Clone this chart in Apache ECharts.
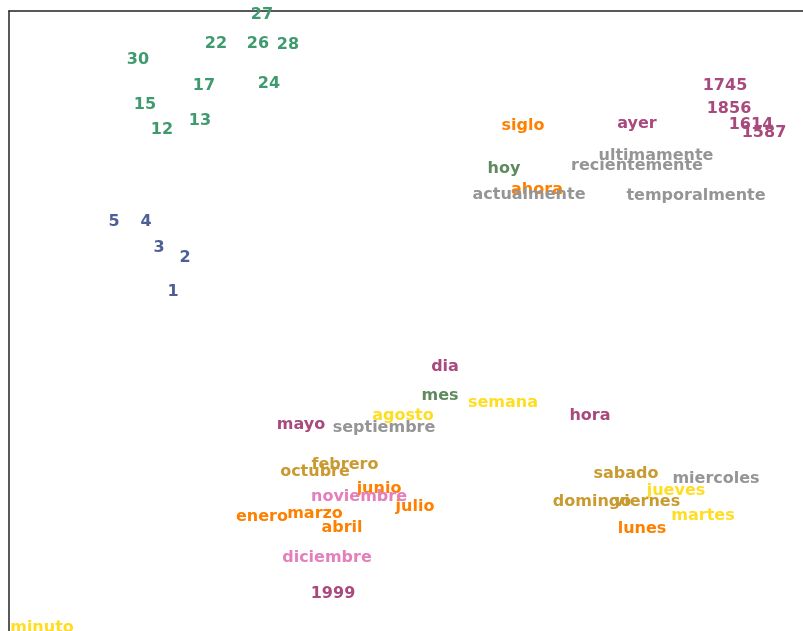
<!DOCTYPE html>
<html>
<head>
<meta charset="utf-8">
<script src="https://cdn.jsdelivr.net/npm/echarts@6/dist/echarts.min.js"></script>
<style>
  html, body { margin: 0; padding: 0; background: #fff; overflow: hidden; }
  #container { width: 812px; height: 641px; }
</style>
</head>
<body>
<div id="container"></div>
<script>
// words and their 2-d embedding coordinates, one group per colour
var diasNum = ['27', '22', '26', '28', '30', '17', '24', '15', '13', '12'];
var diasNumX = [-14.7, -19.3, -15.1, -12.1, -27.1, -20.5, -14.0, -26.4, -20.9, -24.7];
var diasNumY = [32.6, 29.7, 29.7, 29.6, 28.1, 25.5, 25.7, 23.6, 22.0, 21.1];

var bajos = ['5', '4', '3', '2', '1'];
var bajosX = [-29.5, -26.3, -25.0, -22.4, -23.6];
var bajosY = [11.9, 11.9, 9.3, 8.3, 4.9];

var anios = ['1745', '1856', '1614', '1587', 'ayer', 'dia', 'mayo', 'hora', '1999'];
var aniosX = [31.6, 32.0, 34.2, 35.5, 22.8, 3.6, -10.8, 18.1, -7.6];
var aniosY = [25.5, 23.2, 21.6, 20.8, 21.7, -2.6, -8.4, -7.5, -25.3];

var naranja = ['siglo', 'ahora', 'enero', 'marzo', 'abril', 'junio', 'julio', 'lunes'];
var naranjaX = [11.4, 12.8, -14.7, -9.4, -6.7, -3.0, 0.6, 23.3];
var naranjaY = [21.5, 15.1, -17.6, -17.3, -18.7, -14.8, -16.6, -18.8];

var gris = ['ultimamente', 'recientemente', 'actualmente', 'temporalmente', 'septiembre', 'miercoles'];
var grisX = [24.7, 22.8, 12.0, 28.7, -2.5, 30.7];
var grisY = [18.5, 17.5, 14.6, 14.5, -8.7, -13.8];

var verde = ['hoy', 'mes'];
var verdeX = [9.5, 3.1];
var verdeY = [17.2, -5.5];

var amarillo = ['agosto', 'semana', 'jueves', 'martes', 'minuto'];
var amarilloX = [-0.6, 9.4, 26.7, 29.4, -36.7];
var amarilloY = [-7.5, -6.2, -15.0, -17.5, -28.7];

var dorado = ['febrero', 'octubre', 'sabado', 'domingo', 'viernes'];
var doradoX = [-6.4, -9.4, 21.7, 18.3, 23.8];
var doradoY = [-12.4, -13.1, -13.3, -16.1, -16.1];

var rosa = ['noviembre', 'diciembre'];
var rosaX = [-5.0, -8.2];
var rosaY = [-15.6, -21.7];

var grupos = [
    [diasNum, diasNumX, diasNumY, '#3f9a6f'],
    [bajos, bajosX, bajosY, '#4d5f95'],
    [anios, aniosX, aniosY, '#a84a7d'],
    [naranja, naranjaX, naranjaY, '#ff8000'],
    [gris, grisX, grisY, '#959595'],
    [verde, verdeX, verdeY, '#5f8a5f'],
    [amarillo, amarilloX, amarilloY, '#ffdd22'],
    [dorado, doradoX, doradoY, '#c99a30'],
    [rosa, rosaX, rosaY, '#e47fbb']
];

var series = grupos.map(function (g) {
    var data = g[0].map(function (w, i) {
        return { value: [g[1][i], g[2][i]], name: w };
    });
    return {
        type: 'scatter',
        symbolSize: 0,
        clip: false,
        data: data,
        label: {
            show: true,
            position: 'inside',
            formatter: '{b}',
            color: g[3],
            opacity: 1,
            fontFamily: 'DejaVu Sans',
            fontWeight: 'bold',
            fontSize: 16
        },
        itemStyle: { color: g[3], opacity: 1 },
        emphasis: { disabled: true }
    };
});

var myChart = echarts.init(document.getElementById('container'));
var option = {
    animation: false,
    backgroundColor: '#ffffff',
    // the axes box runs past the right and bottom edges of the window
    grid: {
        left: 9,
        top: 11,
        width: 800,
        height: 630
    },
    xAxis: {
        type: 'value',
        position: 'top',
        min: -40,
        max: 40,
        axisLine: { show: true, onZero: false, lineStyle: { color: '#222222', width: 1.5 } },
        axisTick: { show: false },
        axisLabel: { show: false },
        splitLine: { show: false }
    },
    yAxis: {
        type: 'value',
        position: 'left',
        min: -30,
        max: 33,
        axisLine: { show: true, onZero: false, lineStyle: { color: '#222222', width: 1.5 } },
        axisTick: { show: false },
        axisLabel: { show: false },
        splitLine: { show: false }
    },
    series: series
};
myChart.setOption(option);
</script>
</body>
</html>
